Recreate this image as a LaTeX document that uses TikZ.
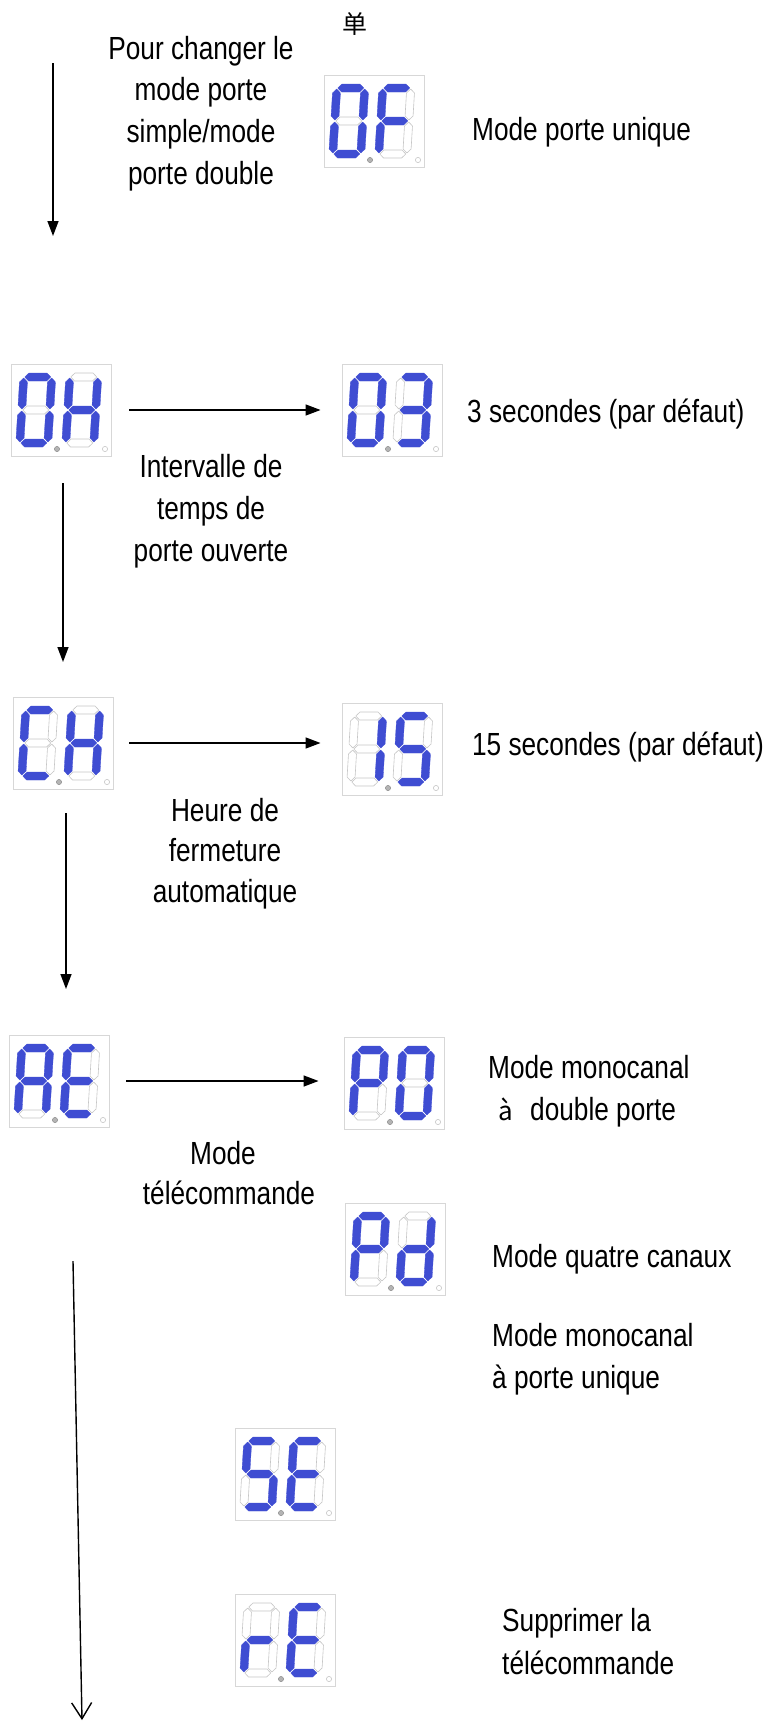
\documentclass[tikz,border=0pt]{standalone}
\usepackage{fontspec}
\setmainfont{Liberation Sans}[FakeStretch=0.82]
\newfontfamily\cjk{Noto Sans CJK SC}
\usetikzlibrary{arrows.meta}
\definecolor{segblue}{RGB}{63,77,210}
\definecolor{segoff}{RGB}{198,198,198}
\definecolor{boxgray}{RGB}{215,215,215}
\definecolor{dotgray}{RGB}{180,180,180}
\tikzset{
  segonst/.style={fill=segblue,draw=segblue,line width=0.3bp,line join=round},
  segoffst/.style={draw=segoff,fill=white,line width=0.6bp,line join=round},
  dispbox/.style={rectangle,draw=boxgray,line width=0.9bp,minimum width=100bp,minimum height=92bp,inner sep=0pt},
  txt/.style={font=\fontsize{32bp}{42bp}\selectfont,inner sep=0pt},
  arr/.style={line width=1.4bp,-{Triangle[length=15bp,width=11bp]}},
  openarr/.style={line width=1.4bp,-{Straight Barb[length=16bp,width=20bp]}}
}
\makeatletter
\newcommand\myseg[3]{\in@{#1}{#2}\ifin@\filldraw[segonst] #3;\else\draw[segoffst] #3;\fi}
\makeatother
\newcommand\mydigit[3]{%
\begin{scope}[shift={(#1,#2)},xslant=0.06]
\myseg{a}{#3}{(5,4)--(9,0)--(27,0)--(31,4)--(27,8)--(9,8)--cycle}
\myseg{g}{#3}{(5,37)--(9,33)--(27,33)--(31,37)--(27,41)--(9,41)--cycle}
\myseg{d}{#3}{(5,70)--(9,66)--(27,66)--(31,70)--(27,74)--(9,74)--cycle}
\myseg{f}{#3}{(4,5)--(8,9)--(8,32)--(4,36)--(0,32)--(0,9)--cycle}
\myseg{e}{#3}{(4,38)--(8,42)--(8,65)--(4,69)--(0,65)--(0,42)--cycle}
\myseg{b}{#3}{(32,5)--(36,9)--(36,32)--(32,36)--(28,32)--(28,9)--cycle}
\myseg{c}{#3}{(32,38)--(36,42)--(36,65)--(32,69)--(28,65)--(28,42)--cycle}
\end{scope}}
\newcommand\mydisp[5]{%
\node[dispbox] (#1) at (#2,#3) {};
\mydigit{#2-41}{#3-37}{#4}
\mydigit{#2+5}{#3-37}{#5}
\filldraw[draw=dotgray!80!black,fill=dotgray,line width=0.5bp] (#2-4,#3+39) circle (2.6bp);
\draw[draw=segoff,fill=white,line width=0.6bp] (#2+44,#3+39) circle (2.6bp);
}
\begin{document}
\begin{tikzpicture}[x=1bp,y=-1bp]
\useasboundingbox (0,0) rectangle (769,1722);
% displays
\mydisp{d0F}{374}{121}{abcdef}{afeg}
\mydisp{d0H}{61}{410}{abcdef}{bcefg}
\mydisp{d03}{392}{410}{abcdef}{abgcd}
\mydisp{dCH}{63}{743}{afed}{bcefg}
\mydisp{d15}{392}{749}{bc}{afgcd}
\mydisp{dAE}{59}{1081}{abcefg}{afged}
\mydisp{dP0}{394}{1083}{abfge}{abcdef}
\mydisp{dPd}{395}{1249}{abfge}{bcdeg}
\mydisp{dSE}{285}{1474}{afgcd}{afged}
\mydisp{drE}{285}{1640}{eg}{afged}
% texts
\node[inner sep=0pt,font=\cjk\fontsize{25bp}{28bp}\selectfont] (tdan) at (355,24) {单};
\node[txt,anchor=base] (t1a) at (201,59) {Pour changer le};
\node[txt,anchor=base] (t1b) at (201,100.5) {mode porte};
\node[txt,anchor=base] (t1c) at (201,142) {simple/mode};
\node[txt,anchor=base] (t1d) at (201,184) {porte double};
\node[txt,anchor=base west] (t2) at (472,140) {Mode porte unique};
\node[txt,anchor=base west] (t3) at (467,422) {3 secondes (par défaut)};
\node[txt,anchor=base] (t4a) at (211,477) {Intervalle de};
\node[txt,anchor=base] (t4b) at (211,519) {temps de};
\node[txt,anchor=base] (t4c) at (211,561) {porte ouverte};
\node[txt,anchor=base east] (t5) at (764,755) {15 secondes (par défaut)};
\node[txt,anchor=base] (t6a) at (225,821) {Heure de};
\node[txt,anchor=base] (t6b) at (225,861) {fermeture};
\node[txt,anchor=base] (t6c) at (225,902) {automatique};
\node[txt,anchor=base west] (t7) at (488,1078) {Mode monocanal};
\node[inner sep=0pt,anchor=base west,font=\cjk\fontsize{26bp}{30bp}\selectfont] (t8a) at (498,1120) {à};
\node[txt,anchor=base west] (t8b) at (530,1120) {double porte};
\node[txt,anchor=base] (t9a) at (223,1164) {Mode};
\node[txt,anchor=base] (t9b) at (229,1204) {télécommande};
\node[txt,anchor=base west] (t10) at (492,1267) {Mode quatre canaux};
\node[txt,anchor=base west] (t11a) at (492,1346) {Mode monocanal};
\node[txt,anchor=base west] (t11b) at (492,1388) {à porte unique};
\node[txt,anchor=base west] (t12a) at (502,1631) {Supprimer la};
\node[txt,anchor=base west] (t12b) at (502,1674) {télécommande};
% arrows
\coordinate (v1s) at (53,63);  \coordinate (v1e) at (53,236);
\coordinate (v2s) at (63,483); \coordinate (v2e) at (63,662);
\coordinate (v3s) at (66,813); \coordinate (v3e) at (66,989);
\coordinate (v4s) at (73,1261); \coordinate (v4e) at (82,1720);
\draw[arr] (v1s) -- (v1e);
\draw[arr] (v2s) -- (v2e);
\draw[arr] (v3s) -- (v3e);
\draw[openarr] (v4s) -- (v4e);
\draw[arr,shorten <=18bp,shorten >=21bp] (d0H.east) -- (d03.west |- d0H.east);
\draw[arr,shorten <=16bp,shorten >=21bp] (dCH.east) -- (d15.west |- dCH.east);
\draw[arr,shorten <=17bp,shorten >=25bp] (dAE.east) -- (dP0.west |- dAE.east);
\end{tikzpicture}
\end{document}
